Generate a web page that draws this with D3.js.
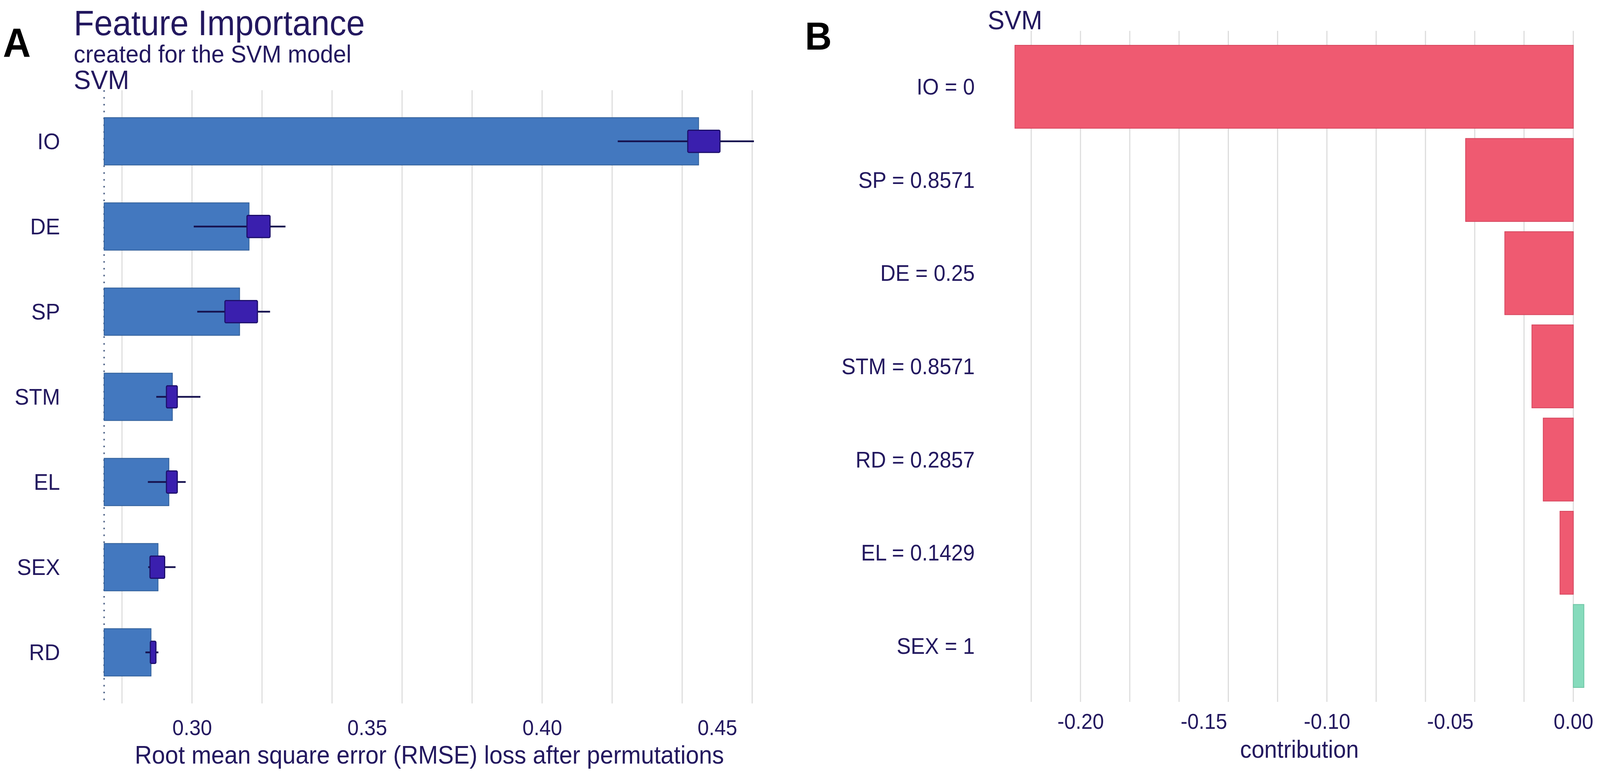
<!DOCTYPE html>
<html>
<head>
<meta charset="utf-8">
<script src="https://cdn.jsdelivr.net/npm/d3@7"></script>
<style>
  html, body { margin: 0; padding: 0; width: 100%; height: 100%; overflow: hidden; background: #ffffff; }
  #chart { width: 100vw; height: 100vh; }
  svg { display: block; }
  text { font-family: "Liberation Sans", Arial, sans-serif; }
</style>
</head>
<body>
<div id="chart"></div>
<script>
// panel A: permutation feature importance (RMSE loss)
const features = ["IO", "DE", "SP", "STM", "EL", "SEX", "RD"];
const meanLoss = [0.4447, 0.3163, 0.3136, 0.2944, 0.2934, 0.2903, 0.2883];
const q1Loss = [0.4416, 0.3157, 0.3094, 0.2927, 0.2927, 0.2880, 0.2881];
const q3Loss = [0.4508, 0.3223, 0.3187, 0.2958, 0.2958, 0.2922, 0.2897];
const minLoss = [0.4216, 0.3005, 0.3015, 0.2898, 0.2874, 0.2875, 0.2867];
const maxLoss = [0.4605, 0.3267, 0.3223, 0.3024, 0.2982, 0.2953, 0.2904];
const fullModelLoss = 0.2749;
const ticksA = [0.30, 0.35, 0.40, 0.45];

// panel B: break down contributions
const bdLabels = ["IO = 0", "SP = 0.8571", "DE = 0.25", "STM = 0.8571", "RD = 0.2857", "EL = 0.1429", "SEX = 1"];
const contribution = [-0.2266, -0.0437, -0.0278, -0.0168, -0.0122, -0.0054, 0.0043];
const ticksB = [-0.20, -0.15, -0.10, -0.05, 0.00];

const W = 4317, H = 1997;
const textCol = "#23185f";
const gridCol = "#dcdcdc";

// viewBox so the whole figure fits the window whatever its real size
const svg = d3.select("#chart")
    .append("svg")
    .attr("width", "100%")
    .attr("height", "100%")
    .attr("viewBox", "0 0 " + W + " " + H)
    .attr("preserveAspectRatio", "none")
    .style("background", "#ffffff");

// ---------- panel A ----------
const xA = d3.scaleLinear().domain([0.2657, 0.4699]).range([194, 2123]);
const yA = d3.scalePoint().domain(features).range([231, 1801]).padding(0.6);
const stepA = yA.step();

const dataA = features.map((f, i) => ({
    name: f, mean: meanLoss[i], q1: q1Loss[i], q3: q3Loss[i], lo: minLoss[i], hi: maxLoss[i]
}));

const gA = svg.append("g");

// grid (major + minor)
gA.selectAll(".gridA")
    .data(xA.ticks(8))
    .enter()
    .append("line")
    .attr("x1", d => xA(d)).attr("x2", d => xA(d))
    .attr("y1", 231).attr("y2", 1801)
    .attr("stroke", gridCol)
    .attr("stroke-width", 3);

// dotted line at full model loss
gA.append("line")
    .attr("x1", xA(fullModelLoss)).attr("x2", xA(fullModelLoss))
    .attr("y1", 231).attr("y2", 1801)
    .attr("stroke", "#52668a")
    .attr("stroke-width", 4)
    .attr("stroke-dasharray", "4 13.5");

// bars from full model loss to mean loss
gA.selectAll(".barA")
    .data(dataA)
    .enter()
    .append("rect")
    .attr("x", xA(fullModelLoss))
    .attr("y", d => yA(d.name) - stepA * 0.278)
    .attr("width", d => xA(d.mean) - xA(fullModelLoss))
    .attr("height", stepA * 0.556)
    .attr("fill", "#4378bf")
    .attr("stroke", "#2f5d97")
    .attr("stroke-width", 2);

// whiskers
gA.selectAll(".whisker")
    .data(dataA)
    .enter()
    .append("line")
    .attr("x1", d => xA(d.lo)).attr("x2", d => xA(d.hi))
    .attr("y1", d => yA(d.name)).attr("y2", d => yA(d.name))
    .attr("stroke", "#17124f")
    .attr("stroke-width", 4.5);

// boxes
gA.selectAll(".box")
    .data(dataA)
    .enter()
    .append("rect")
    .attr("x", d => xA(d.q1))
    .attr("y", d => yA(d.name) - stepA * 0.13)
    .attr("width", d => xA(d.q3) - xA(d.q1))
    .attr("height", stepA * 0.26)
    .attr("rx", 3)
    .attr("fill", "#3a1fae")
    .attr("stroke", "#1d0f6b")
    .attr("stroke-width", 3);

// y labels
gA.selectAll(".ylabA")
    .data(features)
    .enter()
    .append("text")
    .attr("x", 162)
    .attr("y", d => yA(d))
    .attr("dy", "0.35em")
    .attr("text-anchor", "end")
    .attr("font-size", 58)
    .attr("fill", textCol)
    .text(d => d);

// x tick labels
const axisA = gA.append("g")
    .attr("transform", "translate(0,1801)")
    .call(d3.axisBottom(xA).tickValues(ticksA).tickSize(0).tickPadding(42).tickFormat(d => d.toFixed(2)));
axisA.select(".domain").remove();
axisA.selectAll("text")
    .attr("font-size", 55)
    .attr("fill", textCol)
    .style("font-family", "'Liberation Sans', Arial, sans-serif");

gA.append("text")
    .attr("x", (194 + 2123) / 2)
    .attr("y", 1955)
    .attr("text-anchor", "middle")
    .attr("font-size", 64)
    .attr("fill", textCol)
    .text("Root mean square error (RMSE) loss after permutations");

// titles
gA.append("text").attr("x", 199).attr("y", 90)
    .attr("font-size", 90).attr("fill", textCol)
    .text("Feature Importance");
gA.append("text").attr("x", 199).attr("y", 160)
    .attr("font-size", 63).attr("fill", textCol)
    .text("created for the SVM model");
gA.append("text").attr("x", 199).attr("y", 228)
    .attr("font-size", 69).attr("fill", textCol)
    .text("SVM");

// ---------- panel B ----------
const xB = d3.scaleLinear().domain([-0.2384, 0.0161]).range([2660, 4352]);
const yB = d3.scalePoint().domain(bdLabels).range([79, 1797]).padding(0.6);
const stepB = yB.step();

const dataB = bdLabels.map((l, i) => ({ name: l, value: contribution[i] }));

const gB = svg.append("g");

gB.selectAll(".gridB")
    .data(xB.ticks(10))
    .enter()
    .append("line")
    .attr("x1", d => xB(d)).attr("x2", d => xB(d))
    .attr("y1", 79).attr("y2", 1797)
    .attr("stroke", gridCol)
    .attr("stroke-width", 3);

gB.selectAll(".barB")
    .data(dataB)
    .enter()
    .append("rect")
    .attr("x", d => xB(Math.min(0, d.value)))
    .attr("y", d => yB(d.name) - stepB * 0.445)
    .attr("width", d => Math.abs(xB(d.value) - xB(0)))
    .attr("height", stepB * 0.89)
    .attr("fill", d => d.value < 0 ? "#ef5a71" : "#86dbbc")
    .attr("stroke", d => d.value < 0 ? "#d6455d" : "#6cc4a3")
    .attr("stroke-width", 2);

gB.selectAll(".ylabB")
    .data(bdLabels)
    .enter()
    .append("text")
    .attr("x", 2630)
    .attr("y", d => yB(d))
    .attr("dy", "0.35em")
    .attr("text-anchor", "end")
    .attr("font-size", 57)
    .attr("fill", textCol)
    .text(d => d);

const axisB = gB.append("g")
    .attr("transform", "translate(0,1797)")
    .call(d3.axisBottom(xB).tickValues(ticksB).tickSize(0).tickPadding(30).tickFormat(d => d.toFixed(2)));
axisB.select(".domain").remove();
axisB.selectAll("text")
    .attr("font-size", 55)
    .attr("fill", textCol)
    .style("font-family", "'Liberation Sans', Arial, sans-serif");

gB.append("text")
    .attr("x", (2660 + 4352) / 2)
    .attr("y", 1940)
    .attr("text-anchor", "middle")
    .attr("font-size", 62)
    .attr("fill", textCol)
    .text("contribution");

gB.append("text").attr("x", 2665).attr("y", 75)
    .attr("font-size", 68).attr("fill", textCol)
    .text("SVM");

// panel letters
svg.append("text").attr("x", 8).attr("y", 145)
    .attr("font-size", 104).attr("font-weight", "bold").attr("fill", "#000")
    .text("A");
svg.append("text").attr("x", 2172).attr("y", 127)
    .attr("font-size", 100).attr("font-weight", "bold").attr("fill", "#000")
    .text("B");
</script>
</body>
</html>
